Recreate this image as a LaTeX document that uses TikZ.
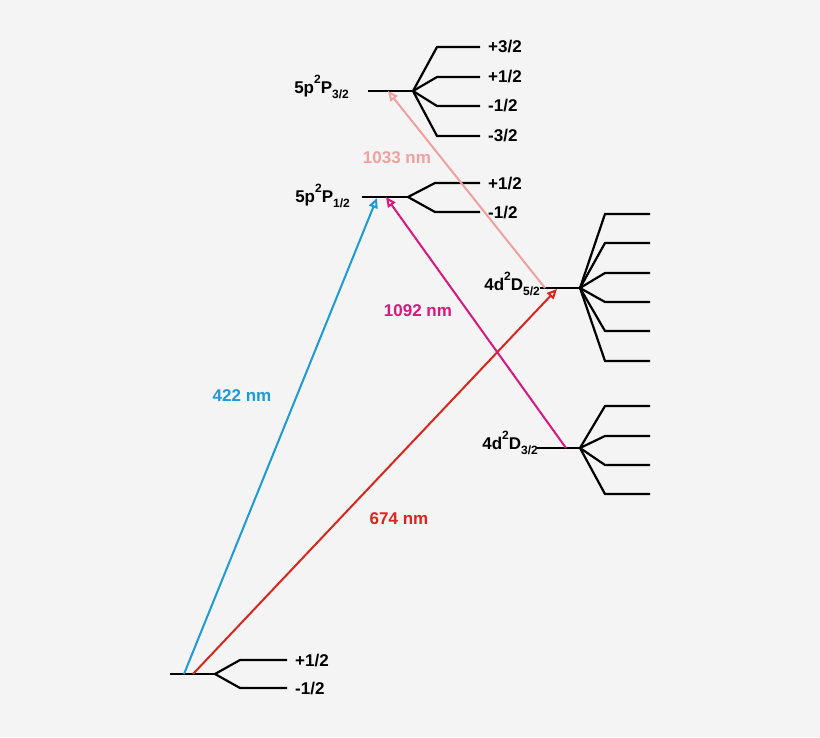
\documentclass[tikz,border=0pt]{standalone}
\usepackage{fontspec}
\setmainfont{Liberation Sans}
\usetikzlibrary{arrows.meta}
\definecolor{bg}{HTML}{F4F4F4}
\definecolor{cblue}{HTML}{1E9AD6}
\definecolor{cred}{HTML}{D9261C}
\definecolor{cmag}{HTML}{D6197F}
\definecolor{cpink}{HTML}{F0A0A0}
\newcommand{\sps}[1]{\raisebox{0.55em}{\fontsize{12}{13}\selectfont #1}}
\newcommand{\sbs}[1]{\raisebox{-0.3em}{\fontsize{12}{13}\selectfont #1}}
\tikzset{lvl/.style={line width=2.2pt,black},
lab/.style={font=\bfseries\fontsize{17}{19}\selectfont,inner sep=0pt},
tr/.style={line width=2pt,-{Triangle[open,length=10pt,width=9pt]}}}
\begin{document}
\begin{tikzpicture}[x=1pt,y=-1pt]
\fill[bg] (0,0) rectangle (820,737);
\useasboundingbox (0,0) rectangle (820,737);
% ground
\coordinate (g0) at (170,674); \coordinate (g1) at (215,674);
\draw[lvl] (g0)--(g1);
\draw[lvl] (g1)--(240,660)--(287,660);
\draw[lvl] (g1)--(240,688)--(287,688);
\node[lab,anchor=west] (gp) at (295,661) {+1/2};
\node[lab,anchor=west] (gm) at (295,689) {-1/2};
% P1/2
\coordinate (p1a) at (362,197); \coordinate (p1b) at (408,197);
\draw[lvl] (p1a)--(p1b);
\draw[lvl] (p1b)--(435,183)--(480,183);
\draw[lvl] (p1b)--(435,212)--(480,212);
\node[lab,anchor=west] (p1p) at (488,184) {+1/2};
\node[lab,anchor=west] (p1m) at (488,213) {-1/2};
\node[lab,anchor=east] (p1l) at (350,196) {5p\sps{2}P\sbs{1/2}};
% P3/2
\coordinate (p3a) at (368,91); \coordinate (p3b) at (413,91);
\draw[lvl] (p3a)--(p3b);
\foreach \y/\t in {47/{+3/2},77/{+1/2},106/{-1/2},136/{-3/2}}{
\draw[lvl] (p3b)--(437,\y)--(480,\y);
\node[lab,anchor=west] at (488,\y) {\t};}
\node[lab,anchor=east] (p3l) at (349,87) {5p\sps{2}P\sbs{3/2}};
% D5/2
\coordinate (d5a) at (540,288); \coordinate (d5b) at (580,288);
\draw[lvl] (d5a)--(d5b);
\foreach \y in {214,243,273,302,331,361}{\draw[lvl] (d5b)--(605,\y)--(650,\y);}
\node[lab,anchor=east] (d5l) at (540,284) {4d\sps{2}D\sbs{5/2}};
% D3/2
\coordinate (d3a) at (537,448); \coordinate (d3b) at (580,448);
\draw[lvl] (d3a)--(d3b);
\foreach \y in {406,436,465,494}{\draw[lvl] (d3b)--(605,\y)--(650,\y);}
\node[lab,anchor=east] (d3l) at (538,443) {4d\sps{2}D\sbs{3/2}};
% transitions
\coordinate (s1) at (184,674); \coordinate (e1) at (377,198);
\coordinate (s2) at (193,674); \coordinate (e2) at (557,289);
\coordinate (s3) at (566,448); \coordinate (e3) at (386,197);
\coordinate (s4) at (545,288); \coordinate (e4) at (388,91);
\draw[tr,cblue] (s1)--(e1);
\draw[tr,cred] (s2)--(e2);
\draw[tr,cmag] (s3)--(e3);
\draw[tr,cpink] (s4)--(e4);
\node[lab,text=cblue] (l1) at (242,396) {422 nm};
\node[lab,text=cred] (l2) at (399,519) {674 nm};
\node[lab,text=cmag] (l3) at (418,311) {1092 nm};
\node[lab,text=cpink] (l4) at (397,158) {1033 nm};
\end{tikzpicture}
\end{document}
